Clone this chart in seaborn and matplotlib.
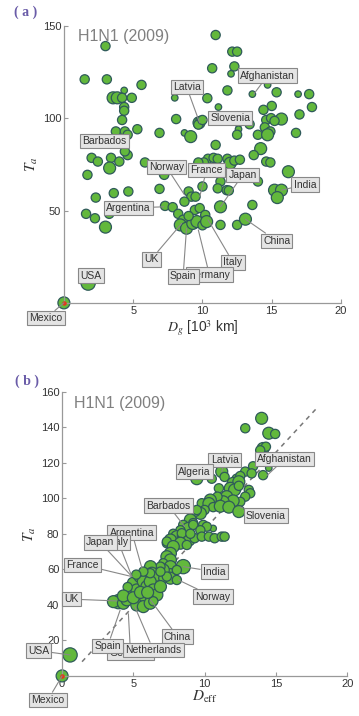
import numpy as np
import pandas as pd
import matplotlib
matplotlib.use("Agg")
import matplotlib.pyplot as plt
import seaborn as sns

# panel (a): geographic distance vs arrival time
dg = [10.95, 3.0, 12.15, 12.5, 10.7, 12.3, 12.06, 1.5, 3.1, 14.7, 5.6, 11.8, 4.35, 13.6, 15.35,
      16.9, 17.7, 3.55, 3.85, 4.2, 4.9, 8.0, 10.35, 11.15, 4.35, 4.35, 17.9, 15.0, 14.4, 17.0,
      15.7, 14.6, 14.95, 15.2, 8.1, 4.2, 9.75, 9.85, 9.7, 10.0, 12.6, 13.4, 14.5, 14.9, 5.3,
      6.9, 12.6, 3.75, 4.4, 4.6, 8.7, 9.15, 12.5, 14.0, 14.7, 16.75, 10.95, 14.2, 13.7, 4.6,
      4.4, 2.0, 2.45, 3.4, 4.0, 3.3, 1.7, 5.85, 7.2, 10.4, 10.8, 11.1, 10.1, 9.7, 11.8,
      12.0, 12.3, 12.7, 14.6, 14.9, 16.2, 14.0, 12.8, 11.3, 11.1, 11.75, 11.9, 15.2, 15.7, 15.4,
      2.3, 3.6, 4.65, 6.9, 7.24, 1.6, 2.24, 3.27, 3.0, 7.3, 7.85, 8.25, 8.6, 9.0, 9.2,
      8.7, 9.5, 8.4, 8.85, 9.3, 9.45, 9.8, 10.2, 9.6, 10.0, 9.0, 10.3, 11.3, 11.3, 12.5,
      13.1, 13.6, 10.0, 1.75, 0.0]
ta_a = [145, 139, 136, 136, 127, 128, 124, 121, 121, 118, 118, 115, 115, 113, 114,
        113, 113, 111, 111, 111, 111, 111, 110.8, 106, 106, 104, 106, 106.6, 104.5, 102,
        99.5, 99, 100, 98.5, 99.5, 99, 97.5, 98.5, 96.5, 99, 97.8, 96.7, 95, 92.8, 94,
        92, 94, 92.8, 92.8, 91, 92, 90, 91, 91, 91, 92, 85.5, 83.5, 80, 80,
        82, 78.5, 76.5, 78.5, 76.5, 73, 69.3, 76, 70, 78, 78.5, 78, 76, 76, 78,
        75.6, 77, 77.5, 76.5, 76, 71, 65.7, 70, 65.7, 62, 61, 60.8, 61, 61, 57,
        57, 59.4, 60.3, 61.7, 69.3, 48.2, 45.8, 48.2, 41, 52.5, 51.8, 48.2, 45, 60.3, 57.5,
        54.8, 57.5, 42.2, 40.4, 43, 50.3, 51.3, 47.6, 44, 42, 47, 44, 52, 42.2, 42.2,
        45.3, 53, 63, 10.7, 0.0]
size_a = [2, 2, 2, 2, 2, 2, 1, 2, 2, 1, 2, 2, 1, 1, 2,
          1, 2, 3, 3, 2, 2, 1, 2, 1, 2, 2, 2, 2, 2, 2,
          3, 2, 2, 2, 2, 2, 3, 2, 2, 2, 2, 2, 2, 2, 2,
          2, 1, 2, 2, 2, 1, 3, 2, 2, 3, 2, 2, 3, 2, 2,
          2, 2, 2, 2, 2, 3, 2, 2, 2, 2, 2, 2, 2, 2, 2,
          3, 2, 2, 2, 2, 3, 2, 2, 2, 2, 2, 2, 3, 3, 3,
          2, 2, 2, 2, 2, 2, 2, 2, 3, 2, 2, 2, 2, 2, 2,
          2, 2, 3, 3, 3, 2, 2, 2, 3, 2, 2, 3, 3, 2, 2,
          3, 2, 2, 4, 3]

# panel (b): effective distance vs arrival time
deff = [14.0, 12.85, 14.5, 14.95, 14.1, 14.3, 13.9, 13.4, 14.5, 14.1, 12.85, 13.3, 11.2, 9.45,
        10.5, 11.4, 12.25, 12.5, 12.0, 12.4, 11.0, 11.8, 12.1, 12.4, 13.1, 13.2, 11.55, 12.85,
        12.5, 12.0, 11.3, 10.7, 10.9, 10.4, 9.8, 10.3, 10.6, 11.1, 11.7, 12.4, 10.0, 9.7,
        9.35, 9.45, 9.0, 9.2, 10.6, 9.9, 8.5, 8.85, 9.2, 10.15, 9.7, 8.3, 7.8, 8.05,
        8.5, 8.9, 9.3, 9.8, 10.3, 10.7, 11.2, 11.4, 7.6, 7.35, 7.35, 8.4, 9.0, 8.3,
        8.75, 7.8, 7.6, 7.35, 7.6, 7.1, 7.6, 7.6, 7.6, 8.5, 8.05, 7.1, 6.9, 6.2,
        6.3, 6.65, 7.1, 8.05, 7.35, 6.9, 3.95, 3.6, 4.3, 4.55, 4.8, 5.0, 5.24, 5.47,
        5.7, 5.95, 6.18, 6.4, 6.65, 6.9, 6.18, 5.95, 5.47, 5.24, 5.7, 6.18, 5.7, 5.2,
        4.6, 4.3, 6.4, 5.0, 5.5, 6.0, 0.56, 0.0]
ta_b = [145, 139.4, 136.6, 136.2, 128, 129, 127, 118, 117, 113, 115, 114, 115, 111,
        111, 112, 111, 112.5, 108.4, 109.3, 105.6, 105.6, 104.7, 107, 104.7, 102.8, 100.9, 100.9,
        98, 98.5, 98, 98, 100.9, 99, 97.2, 97, 95, 95.5, 95, 92.5, 93.4, 91.5,
        92.4, 93.4, 87.8, 86, 83, 85, 85, 83, 85, 84, 82, 82, 80, 78.4,
        78.4, 76.5, 77.5, 78.4, 78.4, 77.5, 78.4, 78.4, 76.5, 74.7, 75.6, 80.3, 80, 74.7,
        73.7, 72.8, 69, 67.1, 65.3, 63.4, 61.5, 57.8, 55, 61.5, 59.6, 59.6, 61.5, 61.5,
        57.8, 55.9, 55, 54, 55.9, 58.7, 41.8, 41.8, 40.9, 42.8, 46.5, 52.2, 48.4, 55.9,
        53.1, 50.3, 53.1, 48.4, 45.6, 50.3, 57.8, 44.6, 42.8, 39.9, 39, 40.9, 58.7, 57,
        50, 45, 42, 44, 47, 47, 11.8, 0.0]
size_b = [3, 2, 3, 2, 3, 2, 2, 2, 1, 2, 2, 2, 3, 3,
          2, 2, 2, 2, 3, 3, 2, 3, 3, 2, 2, 2, 3, 2,
          2, 3, 3, 2, 2, 3, 2, 3, 2, 3, 3, 3, 2, 3,
          2, 2, 3, 2, 1, 2, 2, 3, 2, 2, 2, 2, 2, 3,
          3, 3, 2, 2, 2, 2, 2, 2, 3, 2, 2, 2, 2, 3,
          2, 3, 3, 3, 3, 2, 3, 2, 3, 4, 2, 3, 2, 3,
          3, 2, 2, 2, 2, 2, 4, 3, 3, 3, 3, 3, 3, 3,
          3, 3, 3, 3, 3, 3, 2, 3, 3, 3, 3, 3, 2, 2,
          2, 3, 2, 3, 3, 3, 4, 3]

# labels: name, point x, point y, box x, box y
labels_a = [("Afghanistan", 13.7, 113, 14.7, 123), ("Latvia", 9.8, 97.4, 8.86, 116.8),
            ("Slovenia", 10.2, 99, 12.0, 100), ("Barbados", 4.5, 84, 2.9, 87.7),
            ("Norway", 8.7, 58.5, 7.4, 73.5), ("France", 9.8, 57.5, 10.3, 72),
            ("Japan", 11.3, 52, 12.9, 69.3), ("India", 15.7, 61, 17.4, 64),
            ("Argentina", 7.2, 52, 4.65, 51.3), ("China", 13.1, 45.3, 15.35, 33.6),
            ("UK", 8.5, 43, 6.3, 23.6), ("Italy", 10.4, 45, 12.2, 22),
            ("Germany", 9.7, 39.5, 10.5, 15.2), ("Spain", 8.85, 40.4, 8.6, 14.3),
            ("USA", 1.75, 10.7, 1.93, 14.8), ("Mexico", 0.0, 0.0, -1.3, -8.3)]
labels_b = [("Afghanistan", 14.4, 113, 15.6, 122), ("Latvia", 11.2, 115, 11.4, 121.5),
            ("Algeria", 9.45, 111, 9.3, 115), ("Barbados", 8.6, 84, 7.46, 95.8),
            ("Slovenia", 12.5, 95, 14.3, 90.2), ("Argentina", 5.6, 60.6, 4.9, 80.7),
            ("Italy", 4.9, 55.9, 3.95, 75.2), ("Japan", 4.9, 55.9, 2.67, 75.2),
            ("France", 4.9, 55.9, 1.45, 62.5), ("UK", 3.84, 42.2, 0.68, 43.2),
            ("India", 8.5, 61.5, 10.67, 58.7), ("Norway", 8.16, 54, 10.6, 44.6),
            ("China", 6.2, 42.8, 8.1, 22.1), ("Germany", 4.65, 35, 4.8, 12.8),
            ("Netherlands", 5.1, 39, 6.4, 14.6), ("Spain", 4.07, 37, 3.2, 16.9),
            ("USA", 0.56, 11.8, -1.66, 14.2), ("Mexico", 0.0, 0.0, -1.0, -13.5)]

sns.set_style("ticks")
plt.rcParams["font.family"] = ["Liberation Sans", "DejaVu Sans"]
plt.rcParams["mathtext.fontset"] = "stix"

green = "#62b83c"
edge = "#2f5a5a"
sizes = {1: 22, 2: 44, 3: 74, 4: 105}

fig = plt.figure(figsize=(3.59, 7.16), dpi=100)
ax_a = fig.add_axes([0.178, 0.577, 0.772, 0.387])
ax_b = fig.add_axes([0.173, 0.056, 0.794, 0.397])

df_a = pd.DataFrame({"x": dg, "y": ta_a, "s": size_a})
df_b = pd.DataFrame({"x": deff, "y": ta_b, "s": size_b})

# dashed guide in panel b
ax_b.plot([1.4, 17.9], [8, 151], ls=(0, (3, 3)), color="#777777", lw=1.1, zorder=1)

for ax, df, labels in [(ax_a, df_a, labels_a), (ax_b, df_b, labels_b)]:
    sns.scatterplot(data=df, x="x", y="y", size="s", sizes=sizes, color=green,
                    edgecolor=edge, linewidth=0.9, legend=False, ax=ax,
                    clip_on=False, zorder=2)
    # red dot at the origin country
    ax.scatter([0], [0], s=5, color="#e03a1e", zorder=3, clip_on=False)
    for name, px, py, bx, by in labels:
        ax.annotate(name, xy=(px, py), xytext=(bx, by), textcoords="data",
                    ha="center", va="center", fontsize=7.5, color="#333333",
                    bbox=dict(boxstyle="square,pad=0.22", fc="#e4e4e4", ec="#888888", lw=0.8),
                    arrowprops=dict(arrowstyle="-", color="#888888", lw=0.8,
                                    shrinkA=0, shrinkB=0),
                    annotation_clip=False, zorder=5)
    for sp in ["top", "right"]:
        ax.spines[sp].set_visible(False)
    for sp in ["left", "bottom"]:
        ax.spines[sp].set_color("#999999")
        ax.spines[sp].set_linewidth(0.9)
    ax.tick_params(direction="in", length=3, width=0.8, color="#999999",
                   labelsize=8, labelcolor="#333333", pad=2)
    ax.set_xlim(0, 20)
    ax.set_xlabel("")
    ax.set_ylabel(r"$T_a$", fontsize=11, color="#333333", labelpad=2)

ax_a.set_ylim(0, 150)
ax_a.set_xticks([5, 10, 15, 20])
ax_a.set_yticks([50, 100, 150])
ax_a.set_xlabel(r"$D_g$ [10$^3$ km]", fontsize=10, color="#333333", labelpad=2)

ax_b.set_ylim(0, 160)
ax_b.set_xticks([0, 5, 10, 15, 20])
ax_b.set_yticks([20, 40, 60, 80, 100, 120, 140, 160])
ax_b.set_xlabel(r"$D_{\rm eff}$", fontsize=11, color="#333333", labelpad=0)

ax_a.text(0.05, 0.96, "H1N1 (2009)", transform=ax_a.transAxes, fontsize=11.5,
          color="#808080", va="center")
ax_b.text(0.04, 0.96, "H1N1 (2009)", transform=ax_b.transAxes, fontsize=11.5,
          color="#808080", va="center")

fig.text(0.07, 0.983, "( a )", fontsize=10, fontweight="bold", color="#6a5ca8",
         family="Liberation Serif", va="center", ha="center")
fig.text(0.075, 0.467, "( b )", fontsize=10, fontweight="bold", color="#6a5ca8",
         family="Liberation Serif", va="center", ha="center")

fig.savefig("out.png", dpi=100)
